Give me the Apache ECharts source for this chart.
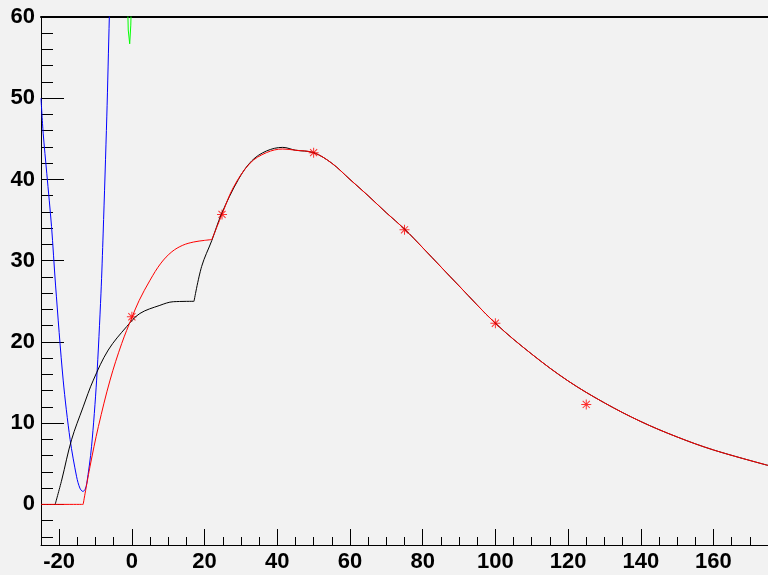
<!DOCTYPE html>
<html>
<head>
<meta charset="UTF-8">
<title>fit curves</title>
<style>
html, body { margin: 0; padding: 0; width: 100%; height: 100%; background: #f2f2f2; }
#chart { width: 768px; height: 575px; }
</style>
<script src="https://cdn.jsdelivr.net/npm/echarts@6/dist/echarts.min.js"></script>
</head>
<body>
<div id="chart"></div>
<script>
// tick labels
var xLabels = [-20, 0, 20, 40, 60, 80, 100, 120, 140, 160];
var yLabels = [0, 10, 20, 30, 40, 50, 60];

// measured points (red stars)
var points = [[0, 23.1], [24.8, 35.7], [50, 43.3], [75, 33.8], [100, 22.3], [125, 12.3]];

// common tail of red and black curves
var tail = [[45, 43.6], [50, 43.3], [55, 42.0], [60, 40.0], [65, 38.0], [70, 35.9], [75, 33.9],
  [80, 31.6], [90, 26.9], [100, 22.3], [110, 18.5], [120, 15.2], [130, 12.5], [140, 10.2],
  [150, 8.3], [160, 6.7], [175, 4.8]];

// red curve, kinks at x=-13.4 and x=22
var redHead = [[-25, 0], [-13.4, 0], [-11.5, 4.7], [-9.2, 9.6], [-6, 15.3], [-2.8, 19.8], [0, 23.0],
  [2, 25.1], [5, 27.6], [8, 29.7], [11, 31.1], [14, 31.9], [17, 32.3], [20, 32.5], [22, 32.6],
  [24.7, 35.6], [27.9, 39.0], [32.5, 42.0], [37, 43.3], [41.5, 43.75]];
var redKinks = [1, 14];

// black curve, kink at x=17.1
var blackHead = [[-21.1, 0], [-19.3, 3.0], [-16.6, 7.95], [-13.4, 12.0], [-10.6, 15.3], [-6.5, 19.0],
  [-1.4, 21.9], [2.2, 23.5], [7.7, 24.5], [11.4, 24.95], [17.1, 25.0], [19.2, 29.3], [22, 32.5],
  [24.7, 35.8], [29.3, 40.0], [33, 42.3], [37, 43.5], [41.5, 43.95]];
var blackKinks = [10];

// blue curve (goes out of the frame at the top)
var blueCurve = [[-25, 50], [-24.4, 45.7], [-23.4, 40.7], [-22.1, 34.2], [-21, 27], [-18.9, 15.3],
  [-17, 8], [-15.2, 3.4], [-14.3, 2.0], [-13.5, 1.6], [-12.9, 1.8], [-12.4, 2.6], [-11.1, 7.1],
  [-9.7, 15.3], [-8.5, 26], [-7.9, 33.4], [-6.9, 47.7], [-6.2, 60], [-5.8, 66]];

// green curve, only its tip is inside
var greenCurve = [[-1.3, 64], [-1.0, 58.4], [-0.6, 56.7], [-0.3, 59], [0.0, 64]];

var xMinor = [];
for (var v = -25; v <= 175; v += 5) { if (xLabels.indexOf(v) < 0) xMinor.push(v); }
var yMinor = [];
for (var w = -4; w <= 60; w += 2) { if (yLabels.indexOf(w) < 0) yMinor.push(w); }

// cut a curve at its kinks so smoothing keeps the corners sharp
function pieces(data, kinks) {
  var out = [], start = 0;
  kinks.concat([data.length - 1]).forEach(function (k) {
    out.push(data.slice(start, k + 1));
    start = k;
  });
  return out;
}

function lineSeries(data, color, smooth) {
  return {
    type: 'line', data: data, showSymbol: false, smooth: smooth, clip: true,
    lineStyle: { color: color, width: 1 }
  };
}

var star = 'path://M0 4.5H10V5.5H0Z M4.5 0H5.5V10H4.5Z M1.1 1.8L1.8 1.1L8.9 8.2L8.2 8.9Z M8.2 1.1L8.9 1.8L1.8 8.9L1.1 8.2Z';
var font = { fontFamily: 'Liberation Sans, Arial, sans-serif', fontWeight: 'bold', fontSize: 22, color: '#000' };

var series = [lineSeries(blueCurve, '#0000ff', 0.3), lineSeries(greenCurve, '#00ff00', false)];
pieces(blackHead.concat(tail), blackKinks).forEach(function (p) { series.push(lineSeries(p, '#000000', 0.35)); });
pieces(redHead.concat(tail), redKinks).forEach(function (p) { series.push(lineSeries(p, '#ff0000', 0.35)); });
series.push({
  type: 'scatter', data: points, symbol: star, symbolSize: 10,
  itemStyle: { color: '#ff0000' }
});

var myChart = echarts.init(document.getElementById('chart'));
var option = {
  backgroundColor: '#f2f2f2',
  animation: false,
  grid: { left: 41, right: 0, top: 17, bottom: 30 },
  xAxis: [{
    type: 'value', min: -25, max: 175, position: 'bottom',
    axisLine: { onZero: false, lineStyle: { color: '#000', width: 1 } },
    axisTick: { inside: true, length: 16, customValues: xLabels, lineStyle: { color: '#000' } },
    axisLabel: Object.assign({ customValues: xLabels, margin: 6 }, font),
    splitLine: { show: false }
  }, {
    type: 'value', min: -25, max: 175, position: 'bottom',
    axisLine: { show: false, onZero: false },
    axisTick: { inside: true, length: 8, customValues: xMinor, lineStyle: { color: '#000' } },
    axisLabel: { show: false },
    splitLine: { show: false }
  }, {
    type: 'value', min: -25, max: 175, position: 'top',
    axisLine: { onZero: false, lineStyle: { color: '#000', width: 2 } },
    axisTick: { show: false }, axisLabel: { show: false }, splitLine: { show: false }
  }],
  yAxis: [{
    type: 'value', min: -5, max: 60, position: 'left',
    axisLine: { show: true, onZero: false, lineStyle: { color: '#000', width: 1 } },
    axisTick: { show: true, inside: true, length: 23, customValues: yLabels, lineStyle: { color: '#000' } },
    axisLabel: Object.assign({ customValues: yLabels, margin: 6 }, font),
    splitLine: { show: false }
  }, {
    type: 'value', min: -5, max: 60, position: 'left', offset: 0,
    axisLine: { show: false, onZero: false },
    axisTick: { show: true, inside: true, length: 12, customValues: yMinor, lineStyle: { color: '#000' } },
    axisLabel: { show: false },
    splitLine: { show: false }
  }],
  series: series
};
myChart.setOption(option);
</script>
</body>
</html>
